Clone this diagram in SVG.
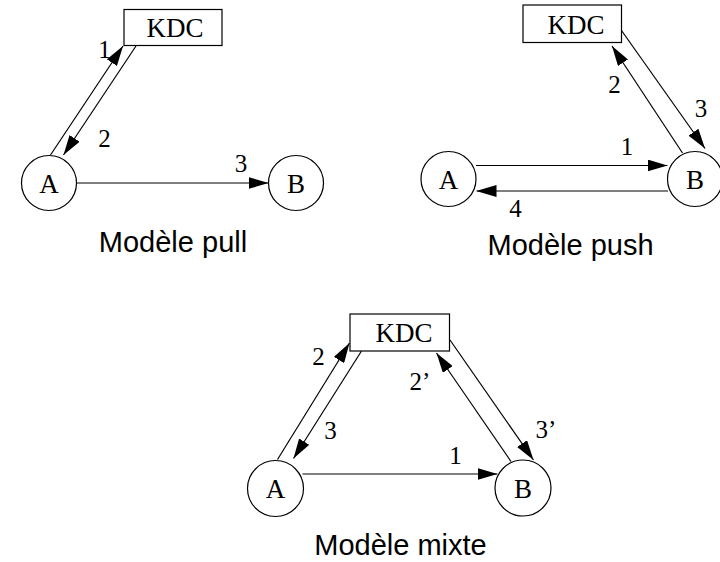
<svg xmlns="http://www.w3.org/2000/svg" width="720" height="562" viewBox="0 0 720 562">
<defs>
<marker id="ah" markerUnits="userSpaceOnUse" markerWidth="20" markerHeight="12" refX="20" refY="6" orient="auto">
<path d="M0,0 L20,6 L0,12 z" fill="#000"/>
</marker>
<style>
.box{fill:#fff;stroke:#000;stroke-width:1.2}
.nd{fill:#fff;stroke:#000;stroke-width:1.2}
.e{stroke:#000;stroke-width:1.2;fill:none;marker-end:url(#ah)}
.t{font-family:"Liberation Serif","Times New Roman",serif;font-size:27px;fill:#000;text-anchor:middle}
.n{font-family:"Liberation Serif","Times New Roman",serif;font-size:25px;fill:#000;text-anchor:middle}
.cap{font-family:"Liberation Sans",Arial,sans-serif;font-size:29px;fill:#000;text-anchor:middle}
</style>
</defs>
<rect width="720" height="562" fill="#fff"/>

<!-- Pull model -->
<g id="pull-kdc"><rect class="box" x="124" y="9.5" width="98" height="36"/><text class="t" x="175" y="37">KDC</text></g>
<g id="pull-a"><circle class="nd" cx="49" cy="183" r="27.5"/><text class="t" x="49" y="192.5">A</text></g>
<g id="pull-b"><circle class="nd" cx="296" cy="183" r="27.5"/><text class="t" x="296" y="192.5">B</text></g>
<g id="pull-edges">
<line class="e" x1="50.5" y1="155" x2="123" y2="46"/>
<line class="e" x1="136" y1="46" x2="63.5" y2="155"/>
<line class="e" x1="77" y1="183" x2="268.5" y2="183"/>
<text class="n" x="104.5" y="58">1</text>
<text class="n" x="104.5" y="147">2</text>
<text class="n" x="241" y="172">3</text>
</g>
<text id="pull-caption" class="cap" x="173" y="252">Modèle pull</text>

<!-- Push model -->
<g id="push-kdc"><rect class="box" x="523" y="5" width="98.5" height="37.5"/><text class="t" x="576" y="34">KDC</text></g>
<g id="push-a"><circle class="nd" cx="448.5" cy="179" r="27.5"/><text class="t" x="448.5" y="188.5">A</text></g>
<g id="push-b"><circle class="nd" cx="695" cy="179" r="27.5"/><text class="t" x="695" y="188.5">B</text></g>
<g id="push-edges">
<line class="e" x1="476" y1="165.5" x2="667.5" y2="165.5"/>
<line class="e" x1="668" y1="191" x2="476.5" y2="191"/>
<line class="e" x1="682.5" y1="153" x2="612" y2="46"/>
<line class="e" x1="621.5" y1="30.5" x2="705" y2="148.5"/>
<text class="n" x="627" y="155">1</text>
<text class="n" x="614.5" y="93">2</text>
<text class="n" x="701" y="117">3</text>
<text class="n" x="515.5" y="216.5">4</text>
</g>
<text id="push-caption" class="cap" x="570.5" y="255">Modèle push</text>

<!-- Mixed model -->
<g id="mixte-kdc"><rect class="box" x="350" y="314" width="99.5" height="37"/><text class="t" x="404" y="341.5">KDC</text></g>
<g id="mixte-a"><circle class="nd" cx="275.5" cy="488.5" r="28"/><text class="t" x="275.5" y="498">A</text></g>
<g id="mixte-b"><circle class="nd" cx="523" cy="488" r="28"/><text class="t" x="523" y="497.5">B</text></g>
<g id="mixte-edges">
<line class="e" x1="302.5" y1="474" x2="497.5" y2="474"/>
<line class="e" x1="277.5" y1="459.5" x2="349.5" y2="343"/>
<line class="e" x1="361.5" y1="351" x2="293.5" y2="458.5"/>
<line class="e" x1="511" y1="461.5" x2="436.5" y2="353"/>
<line class="e" x1="450" y1="340" x2="533.5" y2="460"/>
<text class="n" x="455.5" y="463.5">1</text>
<text class="n" x="318.5" y="365">2</text>
<text class="n" x="330.5" y="438.5">3</text>
<text class="n" x="420" y="390">2’</text>
<text class="n" x="546" y="437.5">3’</text>
</g>
<text id="mixte-caption" class="cap" x="400.5" y="555">Modèle mixte</text>
</svg>
